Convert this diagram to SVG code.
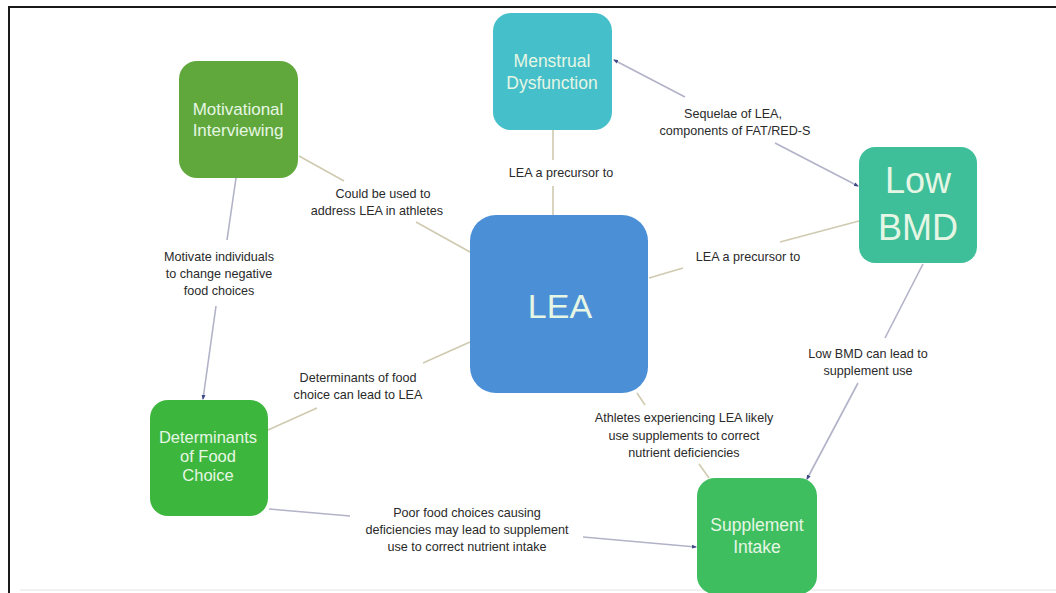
<svg xmlns="http://www.w3.org/2000/svg" width="1056" height="593" viewBox="0 0 1056 593">
<defs>
<style>
.node text{font-family:"Liberation Sans",Arial,sans-serif;fill:#e6f6e4;text-anchor:middle}
.lbl{font-family:"Liberation Sans",Arial,sans-serif;font-size:12.6px;fill:#2a2a2a;text-anchor:middle}
.beige{stroke:#cfcab0;stroke-width:1.6;fill:none}
.blue{stroke:#b2b2c8;stroke-width:1.6;fill:none}
</style>
<marker id="arr" viewBox="0 0 10 10" refX="8" refY="5" markerWidth="5" markerHeight="5" orient="auto" markerUnits="userSpaceOnUse">
<path d="M0,1 L10,5 L0,9 z" fill="#3d4a86"/>
</marker>
</defs>
<rect x="0" y="0" width="1056" height="593" fill="#ffffff"/>
<path d="M9,593 V7 H1056" fill="none" stroke="#1a1a1a" stroke-width="2"/>
<path d="M20,590 H1056" fill="none" stroke="#ececec" stroke-width="1.5"/>

<g id="connectors">
<line class="blue" x1="236" y1="178" x2="227" y2="240"/>
<line class="blue" x1="216" y1="306" x2="203" y2="399" marker-end="url(#arr)"/>
<line class="beige" x1="299" y1="156" x2="344" y2="181"/>
<line class="beige" x1="416" y1="222" x2="470" y2="252"/>
<line class="beige" x1="553" y1="130" x2="553" y2="160"/>
<line class="beige" x1="553" y1="186" x2="553" y2="215"/>
<line class="blue" x1="685" y1="97" x2="614" y2="60" marker-end="url(#arr)"/>
<line class="blue" x1="775" y1="143" x2="858" y2="186" marker-end="url(#arr)"/>
<line class="beige" x1="649" y1="278" x2="683" y2="268"/>
<line class="beige" x1="780" y1="242" x2="859" y2="221"/>
<line class="blue" x1="923" y1="264" x2="885" y2="338"/>
<line class="blue" x1="858" y1="383" x2="807" y2="479" marker-end="url(#arr)"/>
<line class="beige" x1="637" y1="393" x2="645" y2="405"/>
<line class="beige" x1="699" y1="464" x2="709" y2="478"/>
<line class="beige" x1="268" y1="430" x2="317" y2="408"/>
<line class="beige" x1="423" y1="363" x2="470" y2="342"/>
<line class="blue" x1="269" y1="509" x2="350" y2="516"/>
<line class="blue" x1="583" y1="537" x2="696" y2="547" marker-end="url(#arr)"/>
</g>

<g id="labels">
<text class="lbl" x="219" y="261">Motivate individuals</text>
<text class="lbl" x="219" y="278">to change negative</text>
<text class="lbl" x="219" y="295">food choices</text>
<text class="lbl" x="383" y="198">Could be used to</text>
<text class="lbl" x="377" y="215">address LEA in athletes</text>
<text class="lbl" x="561" y="177">LEA a precursor to</text>
<text class="lbl" x="733" y="118">Sequelae of LEA,</text>
<text class="lbl" x="735" y="135">components of FAT/RED-S</text>
<text class="lbl" x="748" y="261">LEA a precursor to</text>
<text class="lbl" x="868" y="358">Low BMD can lead to</text>
<text class="lbl" x="868" y="375">supplement use</text>
<text class="lbl" x="684" y="422">Athletes experiencing LEA likely</text>
<text class="lbl" x="684" y="440">use supplements to correct</text>
<text class="lbl" x="684" y="457">nutrient deficiencies</text>
<text class="lbl" x="358" y="382">Determinants of food</text>
<text class="lbl" x="358" y="399">choice can lead to LEA</text>
<text class="lbl" x="467" y="517">Poor food choices causing</text>
<text class="lbl" x="467" y="534">deficiencies may lead to supplement</text>
<text class="lbl" x="467" y="551">use to correct nutrient intake</text>
</g>

<g id="node-motivational" class="node">
<rect x="179" y="61" width="119" height="117" rx="18" fill="#60a83c"/>
<text x="238" y="115" font-size="17">Motivational</text>
<text x="238" y="136" font-size="17">Interviewing</text>
</g>
<g id="node-menstrual" class="node">
<rect x="493" y="13" width="119" height="117" rx="18" fill="#45bfca"/>
<text x="552" y="67" font-size="17.5">Menstrual</text>
<text x="552" y="89" font-size="17.5">Dysfunction</text>
</g>
<g id="node-lowbmd" class="node">
<rect x="859" y="147" width="118" height="116" rx="16" fill="#3ebf9a"/>
<text x="918" y="193" font-size="36">Low</text>
<text x="918" y="240" font-size="36">BMD</text>
</g>
<g id="node-lea" class="node">
<rect x="470" y="215" width="178" height="178" rx="26" fill="#4b8fd6"/>
<text x="560" y="318" font-size="34">LEA</text>
</g>
<g id="node-determinants" class="node">
<rect x="150" y="400" width="118" height="116" rx="18" fill="#3db63d"/>
<text x="208" y="443" font-size="16.5">Determinants</text>
<text x="208" y="462" font-size="16.5">of Food</text>
<text x="208" y="481" font-size="16.5">Choice</text>
</g>
<g id="node-supplement" class="node">
<rect x="697" y="478" width="120" height="116" rx="18" fill="#3fbe60"/>
<text x="757" y="531" font-size="17.5">Supplement</text>
<text x="757" y="553" font-size="17.5">Intake</text>
</g>
</svg>
